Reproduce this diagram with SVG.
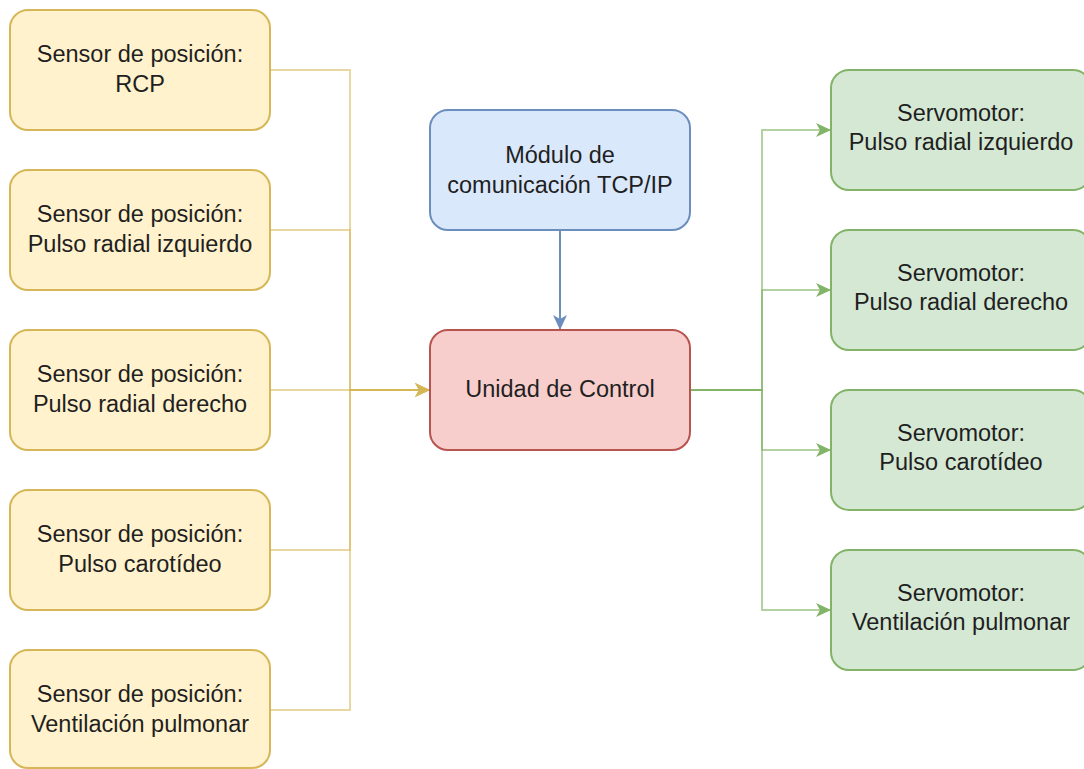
<svg xmlns="http://www.w3.org/2000/svg" width="1084" height="769" viewBox="0 0 1084 769">
<style>
  text { font-family: "Liberation Sans", Arial, sans-serif; font-size: 23.5px; fill: #1f1f1f; text-anchor: middle; }
  .y { fill: #fff2cc; stroke: #d6b656; stroke-width: 2; }
  .b { fill: #dae8fc; stroke: #6c8ebf; stroke-width: 2; }
  .r { fill: #f8cecc; stroke: #b85450; stroke-width: 2; }
  .g { fill: #d5e8d4; stroke: #82b366; stroke-width: 2; }
  .ey { fill: none; stroke: #d6b656; stroke-width: 2; stroke-opacity: 0.55; }
  .eg { fill: none; stroke: #82b366; stroke-width: 2; stroke-opacity: 0.6; }
  .eb { fill: none; stroke: #6c8ebf; stroke-width: 2; }
</style>
<defs>
  <marker id="ay" markerWidth="16" markerHeight="14" refX="15" refY="7" orient="auto" markerUnits="userSpaceOnUse">
    <path d="M0,0 L15,7 L0,14 L4,7 Z" fill="#d6b656" fill-opacity="0.55"/>
  </marker>
  <marker id="ag" markerWidth="16" markerHeight="14" refX="15" refY="7" orient="auto" markerUnits="userSpaceOnUse">
    <path d="M0,0 L15,7 L0,14 L4,7 Z" fill="#82b366"/>
  </marker>
  <marker id="ab" markerWidth="16" markerHeight="14" refX="15" refY="7" orient="auto" markerUnits="userSpaceOnUse">
    <path d="M0,0 L15,7 L0,14 L4,7 Z" fill="#6c8ebf"/>
  </marker>
</defs>
<rect width="1084" height="769" fill="#ffffff"/>
<g id="connectors">
  <path class="ey" d="M270,70 H350 V390 H430" marker-end="url(#ay)"/>
  <path class="ey" d="M270,230 H350 V390 H430" marker-end="url(#ay)"/>
  <path class="ey" d="M270,390 H430" marker-end="url(#ay)"/>
  <path class="ey" d="M270,550 H350 V390 H430" marker-end="url(#ay)"/>
  <path class="ey" d="M270,710 H350 V390 H430" marker-end="url(#ay)"/>
  <path class="eb" d="M560,230 V330" marker-end="url(#ab)"/>
  <path class="eg" d="M690,390 H762 V130 H831" marker-end="url(#ag)"/>
  <path class="eg" d="M690,390 H762 V290 H831" marker-end="url(#ag)"/>
  <path class="eg" d="M690,390 H762 V450 H831" marker-end="url(#ag)"/>
  <path class="eg" d="M690,390 H762 V610 H831" marker-end="url(#ag)"/>
</g>
<g id="sensor-rcp">
  <rect class="y" x="10" y="10" width="260" height="120" rx="18"/>
  <text x="140" y="62">Sensor de posición:</text>
  <text x="140" y="92">RCP</text>
</g>
<g id="sensor-radial-izq">
  <rect class="y" x="10" y="170" width="260" height="120" rx="18"/>
  <text x="140" y="222">Sensor de posición:</text>
  <text x="140" y="252">Pulso radial izquierdo</text>
</g>
<g id="sensor-radial-der">
  <rect class="y" x="10" y="330" width="260" height="120" rx="18"/>
  <text x="140" y="382">Sensor de posición:</text>
  <text x="140" y="412">Pulso radial derecho</text>
</g>
<g id="sensor-carotideo">
  <rect class="y" x="10" y="490" width="260" height="120" rx="18"/>
  <text x="140" y="542">Sensor de posición:</text>
  <text x="140" y="572">Pulso carotídeo</text>
</g>
<g id="sensor-ventilacion">
  <rect class="y" x="10" y="650" width="260" height="118" rx="18"/>
  <text x="140" y="702">Sensor de posición:</text>
  <text x="140" y="732">Ventilación pulmonar</text>
</g>
<g id="modulo-tcp">
  <rect class="b" x="430" y="110" width="260" height="120" rx="18"/>
  <text x="560" y="163">Módulo de</text>
  <text x="560" y="193">comunicación TCP/IP</text>
</g>
<g id="unidad-control">
  <rect class="r" x="430" y="330" width="260" height="120" rx="18"/>
  <text x="560" y="397">Unidad de Control</text>
</g>
<g id="servo-radial-izq">
  <rect class="g" x="831" y="70" width="260" height="120" rx="18"/>
  <text x="961" y="121">Servomotor:</text>
  <text x="961" y="150">Pulso radial izquierdo</text>
</g>
<g id="servo-radial-der">
  <rect class="g" x="831" y="230" width="260" height="120" rx="18"/>
  <text x="961" y="281">Servomotor:</text>
  <text x="961" y="310">Pulso radial derecho</text>
</g>
<g id="servo-carotideo">
  <rect class="g" x="831" y="390" width="260" height="120" rx="18"/>
  <text x="961" y="441">Servomotor:</text>
  <text x="961" y="470">Pulso carotídeo</text>
</g>
<g id="servo-ventilacion">
  <rect class="g" x="831" y="550" width="260" height="120" rx="18"/>
  <text x="961" y="601">Servomotor:</text>
  <text x="961" y="630">Ventilación pulmonar</text>
</g>
</svg>
